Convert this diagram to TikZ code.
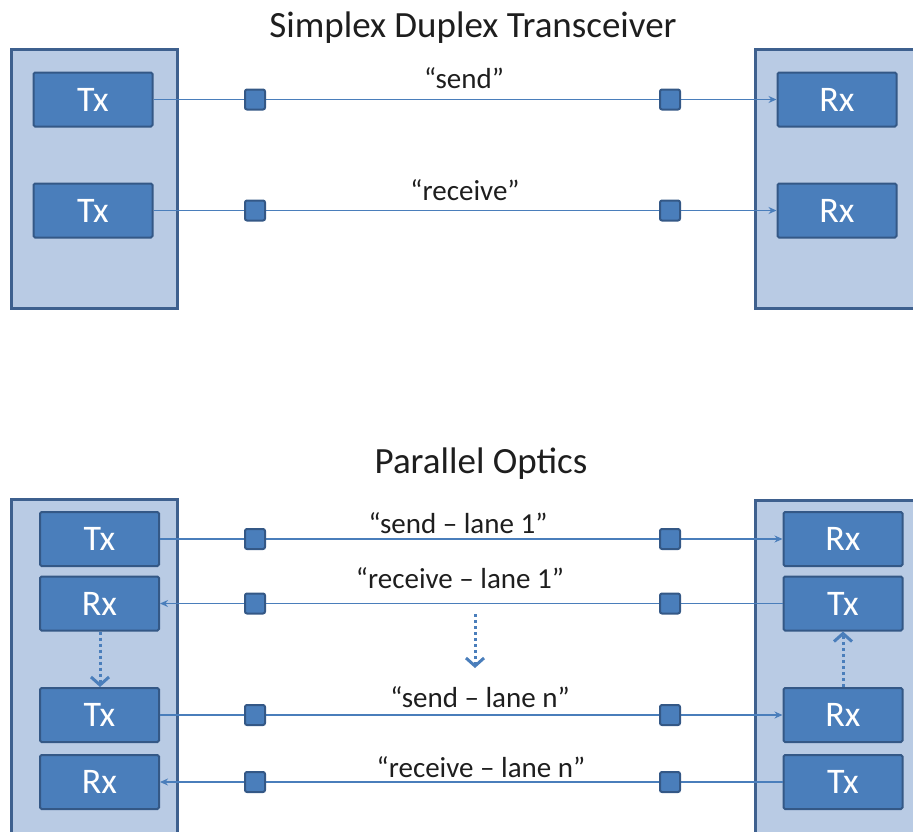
\documentclass[tikz,border=0pt]{standalone}
\usepackage{fontspec}
\setmainfont{Carlito}
\usetikzlibrary{arrows.meta,positioning}
\definecolor{paleblue}{RGB}{185,203,228}
\definecolor{edgeblue}{RGB}{62,96,142}
\definecolor{boxblue}{RGB}{74,126,187}
\definecolor{darkblue}{RGB}{52,88,134}
\definecolor{inkgrey}{RGB}{30,30,30}
\tikzset{
  unit/.style={draw=edgeblue,line width=3pt,fill=paleblue},
  lanebox/.style={draw=darkblue,line width=2pt,fill=boxblue,rounded corners=1.5pt,
    minimum width=119pt,minimum height=54pt,inner sep=0pt,text=white,
    font=\fontsize{36}{36}\selectfont},
  plug/.style={draw=darkblue,line width=2pt,fill=boxblue,rounded corners=2pt,
    minimum size=20pt,inner sep=0pt},
  fibre/.style={boxblue,line width=1.6pt,-{Stealth[length=8pt,width=7pt]}},
  hop/.style={boxblue,line width=3pt,dash pattern=on 3pt off 3pt,
    -{Straight Barb[length=8pt,width=18pt,line width=3pt]}},
  heading/.style={anchor=base,text=inkgrey,font=\fontsize{37}{37}\selectfont},
  lanelabel/.style={anchor=base,text=inkgrey,font=\fontsize{29}{29}\selectfont}
}
\begin{document}
\begin{tikzpicture}[x=1pt,y=-1pt]
  \useasboundingbox (0,0) rectangle (913,831);
  \clip (0,0) rectangle (913,831);

  % simplex duplex
  \node[heading] (H1) at (473,37) {Simplex Duplex Transceiver};
  \draw[unit] (11,49) rectangle (177,308);
  \draw[unit] (755,49) rectangle (930,308);
  \node[lanebox] (TA) at (93,99.5) {Tx};
  \node[lanebox] (TB) at (93,210.5) {Tx};
  \node[lanebox] (RA) at (837,99.5) {Rx};
  \node[lanebox] (RB) at (837,210.5) {Rx};
  \draw[fibre] (TA) -- (RA);
  \draw[fibre] (TB) -- (RB);
  \foreach \y/\n in {99.5/A,210.5/B}
  {
    \node[plug] (P\n) at (255,\y) {};
    \node[plug] (Q\n) at (670,\y) {};
  }
  \node[lanelabel] (SA) at (464,88) {“send”};
  \node[lanelabel] (SB) at (465,200) {“receive”};

  % parallel optics
  \node[heading] (H2) at (481,473) {Parallel Optics};
  \draw[unit] (11,499) rectangle (177,850);
  \draw[unit] (755,500) rectangle (930,850);
  \foreach \y/\l/\r/\n in {539/Tx/Rx/1,603.5/Rx/Tx/2,715/Tx/Rx/3,782/Rx/Tx/4}
  {
    \node[lanebox] (L\n) at (99.5,\y) {\l};
    \node[lanebox] (R\n) at (843,\y) {\r};
  }
  \draw[fibre] (L1) -- (R1);
  \draw[fibre] (R2) -- (L2);
  \draw[fibre] (L3) -- (R3);
  \draw[fibre] (R4) -- (L4);
  \foreach \y/\n in {539/1,603.5/2,715/3,782/4}
  {
    \node[plug] (P\n) at (255,\y) {};
    \node[plug] (Q\n) at (670,\y) {};
  }
  \node[lanelabel] (S1) at (458,533) {“send – lane 1”};
  \node[lanelabel] (S2) at (460,588) {“receive – lane 1”};
  \node[lanelabel] (S3) at (480,707) {“send – lane n”};
  \node[lanelabel] (S4) at (481,777) {“receive – lane n”};

  % more lanes
  \coordinate (MA) at (475,614);
  \coordinate (MB) at (475,668);
  \draw[hop] (L2.south -| 100,0) -- (L3.north -| 100,0);
  \draw[hop] (MA) -- (MB);
  \draw[hop] (R3.north) -- (R2.south);
\end{tikzpicture}
\end{document}
